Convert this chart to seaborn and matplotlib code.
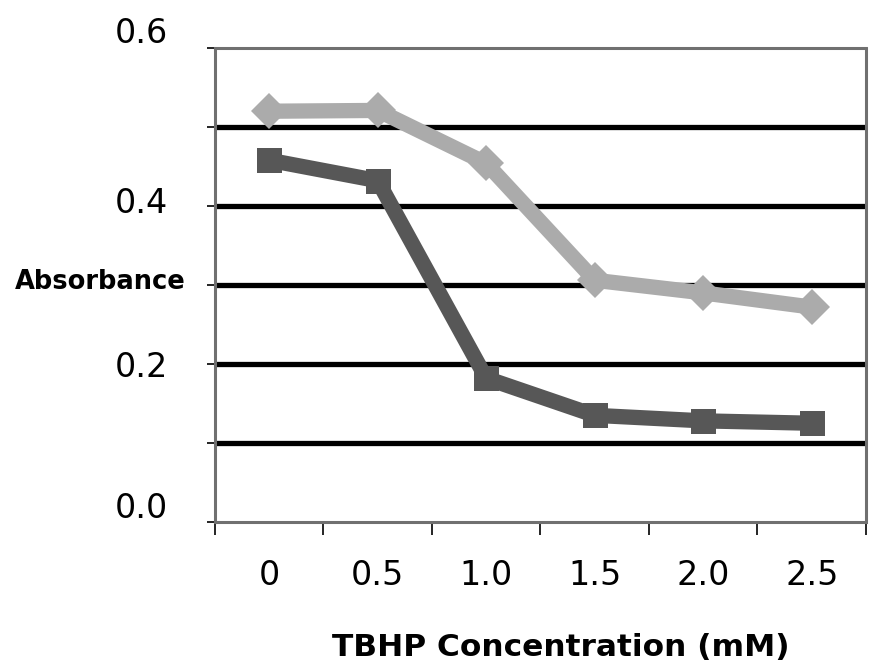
import matplotlib
matplotlib.use("Agg")
import matplotlib.pyplot as plt
import matplotlib.transforms as mtransforms
import seaborn as sns
import pandas as pd
import numpy as np

categories = ["0", "0.5", "1.0", "1.5", "2.0", "2.5"]
series_light = [0.520, 0.521, 0.454, 0.306, 0.290, 0.272]
series_dark = [0.458, 0.432, 0.182, 0.135, 0.128, 0.125]
y_tick_values = [0.0, 0.1, 0.2, 0.3, 0.4, 0.5, 0.6]
y_tick_labels = ["0.0", "", "0.2", "", "0.4", "", "0.6"]

sns.set_theme(style="white")
plt.rcParams["font.family"] = ["DejaVu Sans"]
plt.rcParams["text.color"] = "black"
plt.rcParams["axes.labelcolor"] = "black"
plt.rcParams["xtick.color"] = "black"
plt.rcParams["ytick.color"] = "black"

df = pd.DataFrame({
    "pos": list(range(len(categories))) * 2,
    "value": series_light + series_dark,
    "series": ["light"] * len(categories) + ["dark"] * len(categories),
})

fig = plt.figure(figsize=(8.69, 6.68), dpi=100)
ax = fig.add_axes([0.2474, 0.2186, 0.9965 - 0.2474, 0.9281 - 0.2186])

# gridlines
for v in y_tick_values[1:-1]:
    ax.axhline(v, color="black", lw=3.8, zorder=1)

sns.lineplot(data=df[df.series == "dark"], x="pos", y="value", ax=ax,
             color="#575757", lw=11, marker="s", markersize=18,
             markeredgewidth=0, zorder=3, legend=False)
sns.lineplot(data=df[df.series == "light"], x="pos", y="value", ax=ax,
             color="#ababab", lw=11, marker="D", markersize=18,
             markeredgewidth=0, zorder=4, legend=False)

ax.set_xlim(-0.5, len(categories) - 0.5)
ax.set_ylim(0, 0.6)

ax.set_yticks(y_tick_values)
ax.set_yticklabels(y_tick_labels, fontsize=24)
ax.set_xticks(range(len(categories)))
ax.set_xticklabels(categories, fontsize=24)
ax.set_xticks(np.arange(-0.5, len(categories), 1.0), minor=True)

ax.tick_params(axis="y", which="major", direction="out", length=5.5, width=1.2,
               color="black", pad=28, left=True)
ax.tick_params(axis="x", which="major", length=0, pad=27)
ax.tick_params(axis="x", which="minor", direction="out", length=9, width=1.2,
               color="black", bottom=True)

label_offsets_px = {"0.0": 17, "0.2": 0, "0.4": 6, "0.6": 18}
for lab in ax.get_yticklabels():
    off = label_offsets_px.get(lab.get_text(), 0)
    lab.set_transform(lab.get_transform() +
                      mtransforms.ScaledTranslation(0, off / 100, fig.dpi_scale_trans))

for side in ["top", "right", "left", "bottom"]:
    ax.spines[side].set_visible(True)
    ax.spines[side].set_color("#707070")
    ax.spines[side].set_linewidth(2.2)
    ax.spines[side].set_linestyle((0, (1, 1)))

ax.set_xlabel("TBHP Concentration (mM)", fontsize=22.5, fontweight="bold", labelpad=29)
ax.xaxis.label.set_x(0.531)
ax.set_ylabel("")
ax.text(-0.045, 0.3, "Absorbance",
        transform=mtransforms.blended_transform_factory(ax.transAxes, ax.transData)
        + mtransforms.ScaledTranslation(0, 3 / 100, fig.dpi_scale_trans),
        ha="right", va="center", fontsize=18.5, fontweight="bold")

ax.set_facecolor("white")
fig.savefig("out.png", dpi=100, facecolor="white")
